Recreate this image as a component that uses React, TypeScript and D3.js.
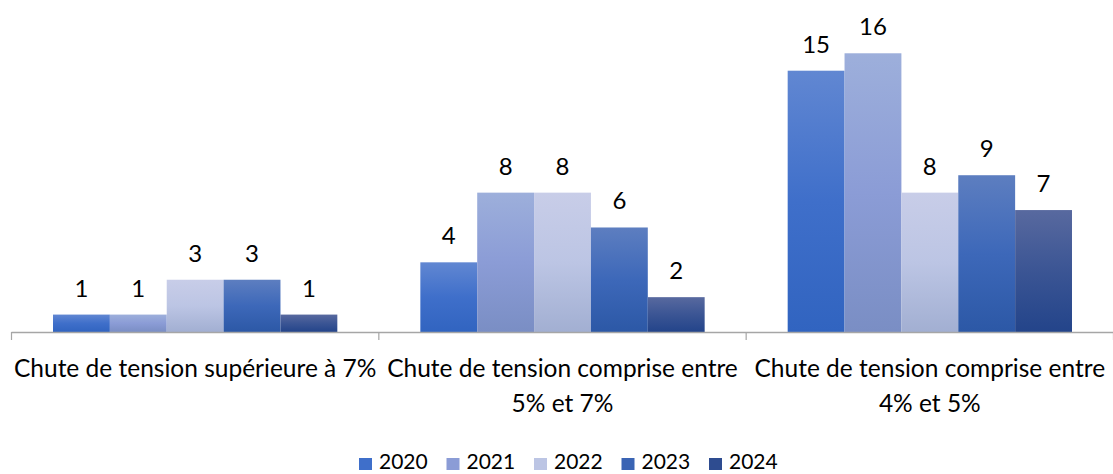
import React from "react";
import * as d3 from "d3";

const categories: string[][] = [
  ["Chute de tension supérieure à 7%"],
  ["Chute de tension comprise entre", "5% et 7%"],
  ["Chute de tension comprise entre", "4% et 5%"],
];
const years = ["2020", "2021", "2022", "2023", "2024"];
const values2020 = [1, 4, 15];
const values2021 = [1, 8, 16];
const values2022 = [3, 8, 8];
const values2023 = [3, 6, 9];
const values2024 = [1, 2, 7];
const seriesValues = [values2020, values2021, values2022, values2023, values2024];

const gradients = [
  ["#6187d2", "#3f6fca", "#3164c0"],
  ["#9dafdb", "#8b9cd6", "#7a8ec4"],
  ["#c8cde8", "#bcc5e4", "#a2afd2"],
  ["#5d7ec0", "#3d68b9", "#2c58a6"],
  ["#58699f", "#3b5594", "#23448a"],
];
const legendColors = ["#3f6fca", "#8b9cd6", "#bcc5e4", "#3a64b4", "#2e4c90"];

const W = 1113;
const H = 474;
const FONT = "Lato, 'Open Sans', sans-serif";

export default function App() {
  const baseY = 332;
  const x0 = d3.scaleBand<number>().domain([0, 1, 2]).range([11.5, 1113.5]).padding(0);
  const bw = x0.bandwidth();
  const gap = bw * 0.113;
  const x1 = d3.scaleBand<string>().domain(years).range([gap, bw - gap]).padding(0);
  const y = d3.scaleLinear().domain([0, 18]).range([baseY, baseY - 18 * 17.42]);

  return (
    <svg width={W} height={H} style={{ display: "block", position: "absolute", left: 0, top: 0 }}>
      <defs>
        {gradients.map((g, i) => (
          <linearGradient key={i} id={`grad${i}`} x1="0" y1="0" x2="0" y2="1">
            <stop offset="0%" stopColor={g[0]} />
            <stop offset="50%" stopColor={g[1]} />
            <stop offset="100%" stopColor={g[2]} />
          </linearGradient>
        ))}
      </defs>
      {categories.map((cat, ci) => (
        <g key={ci} transform={`translate(${x0(ci)},0)`}>
          {years.map((yr, si) => {
            const v = seriesValues[si][ci];
            const bx = x1(yr)!;
            const top = y(v);
            return (
              <g key={yr}>
                <rect x={bx} y={top} width={x1.bandwidth()} height={baseY - top} fill={`url(#grad${si})`} />
                <text
                  x={bx + x1.bandwidth() / 2}
                  y={top - 18}
                  textAnchor="middle"
                  fontFamily={FONT}
                  fontSize={24}
                  fill="#000"
                >
                  {v}
                </text>
              </g>
            );
          })}
          {cat.map((line, li) => (
            <text
              key={li}
              x={bw / 2}
              y={377 + li * 35}
              textAnchor="middle"
              fontFamily={FONT}
              fontSize={24.5}
              fill="#000"
            >
              {line}
            </text>
          ))}
        </g>
      ))}
      <line x1={11.5} x2={1113} y1={baseY + 0.5} y2={baseY + 0.5} stroke="#a6a6a6" strokeWidth={1.5} />
      {[0, 1, 2, 3].map((i) => {
        const xx = i < 3 ? x0(i)! : 1113.5;
        return <line key={i} x1={xx} x2={xx} y1={baseY} y2={baseY + 8} stroke="#a6a6a6" strokeWidth={1.2} />;
      })}
      {years.map((yr, i) => {
        const lx = 359 + i * 87.5;
        return (
          <g key={yr}>
            <rect x={lx} y={458} width={13} height={12} fill={legendColors[i]} />
            <text x={lx + 20} y={469} fontFamily={FONT} fontSize={21} fill="#000">
              {yr}
            </text>
          </g>
        );
      })}
    </svg>
  );
}
